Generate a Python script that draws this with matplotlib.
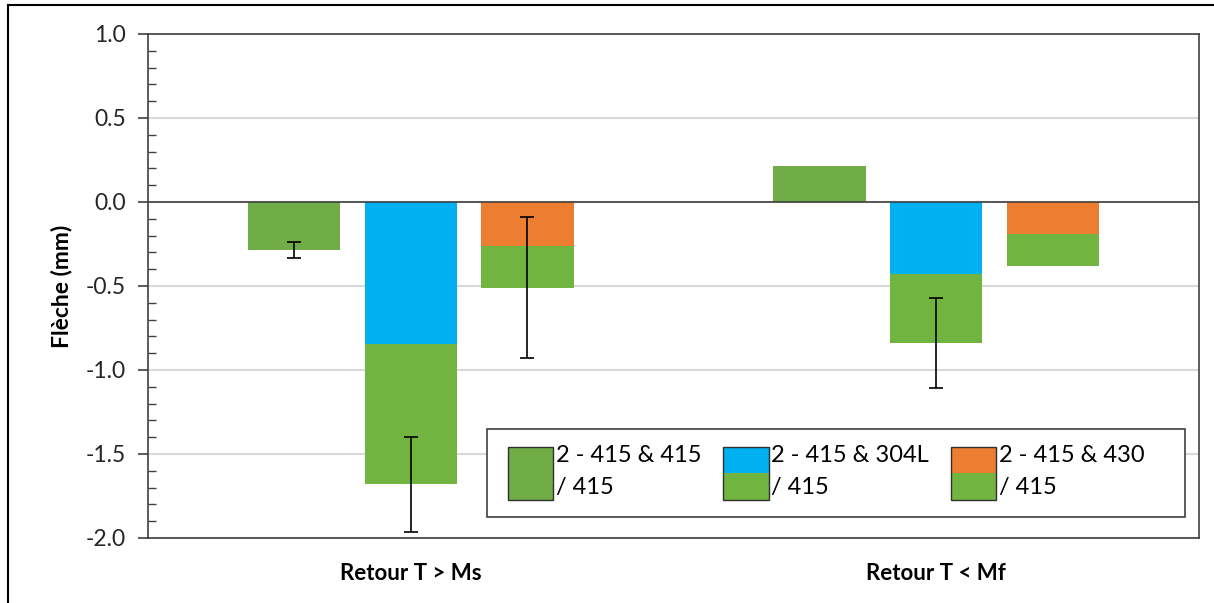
"""
plot.py
-------
Stacked bar chart of deflection (Flèche) with error bars and split-colour legend.
"""

import numpy as np
import matplotlib
matplotlib.use("Agg")
import matplotlib.pyplot as plt
from matplotlib.legend_handler import HandlerBase
from matplotlib.patches import Rectangle
from matplotlib.lines import Line2D
from matplotlib.ticker import MultipleLocator, FormatStrFormatter


# ── Data ──────────────────────────────────────────────────────────────────────

categories = ["Retour T > Ms", "Retour T < Mf"]

labels = ["2 - 415 & 415\n/ 415", "2 - 415 & 304L\n/ 415", "2 - 415 & 430\n/ 415"]

# series 1: single segment
seg_415 = [-0.285, 0.215]
err_415 = [0.047, 0.0]

# series 2: 304L segment (top) + 415 segment (below)
seg_304L = [-0.847, -0.426]
seg_304L_415 = [-0.833, -0.414]
err_304L = [0.283, 0.268]

# series 3: 430 segment (top) + 415 segment (below)
seg_430 = [-0.262, -0.192]
seg_430_415 = [-0.248, -0.190]
err_430 = [0.42, 0.0]

# ── Style ─────────────────────────────────────────────────────────────────────

GREEN_A = "#70AD47"
GREEN_B = "#71B43F"
BLUE = "#00B0F0"
ORANGE = "#ED7D31"
GRID = "#D9D9D9"
AXIS = "#404040"

plt.rcParams["font.family"] = ["Lato", "DejaVu Sans"]


class SplitPatchHandler(HandlerBase):
    """Legend handle drawn as a rectangle split into two colours."""

    def __init__(self, top, bottom, split=0.5, xpad=0.21):
        super().__init__(xpad=xpad)
        self.top, self.bottom, self.split = top, bottom, split

    def create_artists(self, legend, orig_handle, xdescent, ydescent,
                       width, height, fontsize, trans):
        x0, y0 = -xdescent, -ydescent
        h_top = height * self.split
        r_bot = Rectangle((x0, y0), width, height - h_top, fc=self.bottom,
                          ec="none", transform=trans)
        r_top = Rectangle((x0, y0 + height - h_top), width, h_top, fc=self.top,
                          ec="none", transform=trans)
        frame = Rectangle((x0, y0), width, height, fill=False, ec="#303030",
                          lw=1.0, transform=trans)
        return [r_bot, r_top, frame]


fig = plt.figure(figsize=(12.14, 6.03), dpi=100)
ax = fig.add_axes([148 / 1214, 1 - 538 / 603, 1051 / 1214, 504 / 603])

x = np.arange(len(categories))
width = 0.176
step = 0.222

# series 1
ax.bar(x - step, seg_415, width, color=GREEN_A, zorder=2)

# series 2
ax.bar(x, seg_304L, width, color=BLUE, zorder=2)
ax.bar(x, seg_304L_415, width, bottom=seg_304L, color=GREEN_B, zorder=2)

# series 3
ax.bar(x + step, seg_430, width, color=ORANGE, zorder=2)
ax.bar(x + step, seg_430_415, width, bottom=seg_430, color=GREEN_B, zorder=2)

# error bars at the stacked totals
tot_304L = np.add(seg_304L, seg_304L_415)
tot_430 = np.add(seg_430, seg_430_415)
for xs, ys, es in [(x - step, seg_415, err_415),
                   (x, tot_304L, err_304L),
                   (x + step, tot_430, err_430)]:
    for xi, yi, ei in zip(xs, ys, es):
        if ei > 0:
            ax.errorbar(xi, yi, yerr=ei, fmt="none", ecolor="black",
                        elinewidth=1.2, capsize=5, capthick=1.2, zorder=4)

ax.axhline(0, color=AXIS, lw=1.2, zorder=3)

# ── Axes ──────────────────────────────────────────────────────────────────────

ax.set_xlim(-0.5, 1.5)
ax.set_ylim(-2.0, 1.0)
ax.yaxis.set_major_locator(MultipleLocator(0.5))
ax.yaxis.set_minor_locator(MultipleLocator(0.1))
ax.yaxis.set_major_formatter(FormatStrFormatter("%.1f"))
ax.tick_params(axis="y", which="major", direction="out", length=7,
               width=1.2, color=AXIS, labelsize=16.5, pad=9, labelcolor="#262626")
ax.tick_params(axis="y", which="minor", direction="in", length=5.5,
               width=1.0, color=AXIS)
ax.set_xticks(x)
ax.set_xticklabels(categories, fontsize=16, fontweight="bold")
ax.tick_params(axis="x", length=0, pad=18)
ax.grid(axis="y", which="major", color=GRID, lw=1.5, zorder=0)
ax.set_axisbelow(True)
for s in ax.spines.values():
    s.set_color(AXIS)
    s.set_linewidth(1.2)

ax.set_ylabel("Flèche (mm)", fontsize=16.5, fontweight="bold")
ax.yaxis.set_label_coords(-0.072, 0.5)

# ── Legend ────────────────────────────────────────────────────────────────────

# legend frame drawn separately so it can be wider than the entries
leg_box = (0.3226, 0.0417, 0.664, 0.1746)
ax.add_patch(Rectangle(leg_box[:2], leg_box[2], leg_box[3], transform=ax.transAxes,
                       fc="white", ec=AXIS, lw=1.2, zorder=4.5))

handles = [Rectangle((0, 0), 1, 1) for _ in labels]
handler_map = {
    handles[0]: SplitPatchHandler(GREEN_A, GREEN_A),
    handles[1]: SplitPatchHandler(BLUE, GREEN_B),
    handles[2]: SplitPatchHandler(ORANGE, GREEN_B),
}
leg = ax.legend(handles, labels, handler_map=handler_map, ncol=3,
                loc="upper left", bbox_to_anchor=(0.3226, 0.2163),
                borderaxespad=0, fontsize=17, frameon=False,
                handlelength=2.12, handleheight=3.1, handletextpad=0.12,
                columnspacing=0.72, borderpad=0.68)
leg.set_zorder(5)
for t in leg.get_texts():
    t.set_linespacing(1.65)

# ── Outer border ──────────────────────────────────────────────────────────────

fig.add_artist(Line2D([7.5 / 1214, 7.5 / 1214], [0, 1 - 4.5 / 603],
                      color="black", lw=1.5, transform=fig.transFigure))
fig.add_artist(Line2D([7.5 / 1214, 1], [1 - 4.5 / 603, 1 - 4.5 / 603],
                      color="black", lw=1.5, transform=fig.transFigure))

fig.savefig("out.png", dpi=100)
